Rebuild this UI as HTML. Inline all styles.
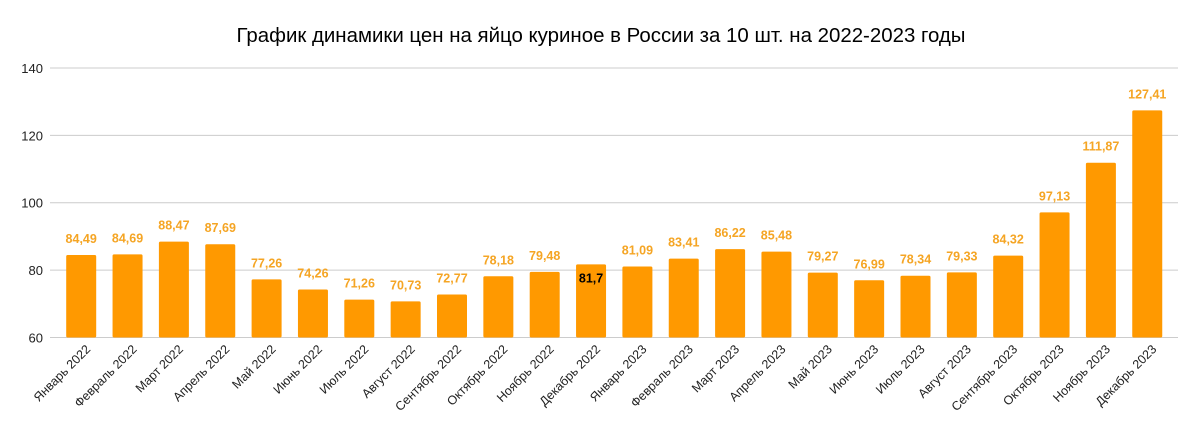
<!DOCTYPE html>
<html><head><meta charset="utf-8"><style>body{margin:0;background:#fff}svg{display:block}</style></head><body>
<svg width="1200" height="434" xmlns="http://www.w3.org/2000/svg" font-family="Liberation Sans, sans-serif">
<rect width="1200" height="434" fill="#fff"/>
<text x="601" y="42" font-size="20" text-anchor="middle" textLength="729" lengthAdjust="spacingAndGlyphs" fill="#000">График динамики цен на яйцо куриное в России за 10 шт. на 2022-2023 годы</text>
<g id="g"></g>
</svg>
<script>
const vals=[84.49,84.69,88.47,87.69,77.26,74.26,71.26,70.73,72.77,78.18,79.48,81.7,81.09,83.41,86.22,85.48,79.27,76.99,78.34,79.33,84.32,97.13,111.87,127.41];
const months=["Январь","Февраль","Март","Апрель","Май","Июнь","Июль","Август","Сентябрь","Октябрь","Ноябрь","Декабрь"];
const Y=v=>337.5-(v-60)*3.369;
let s="";
for(let t=60;t<=140;t+=20){const y=Y(t);s+=`<line x1="50" x2="1178" y1="${y}" y2="${y}" stroke="#ccc" stroke-width="1"/><text x="43" y="${y+5}" font-size="13" text-anchor="end" fill="#222">${t}</text>`;}
vals.forEach((v,i)=>{const cx=81.2+i*46.35,y=Y(v);
s+=`<rect x="${cx-15}" y="${y}" width="30" height="${337.5-y}" rx="1.5" fill="#ff9900"/>`;
const lbl=String(v).replace('.',',');
if(i==11)s+=`<text x="${cx}" y="${y+18}" font-size="12.5" font-weight="bold" text-anchor="middle" fill="#000">${lbl}</text>`;
else s+=`<text x="${cx}" y="${y-12}" font-size="12.5" font-weight="bold" text-anchor="middle" fill="#f5a524">${lbl}</text>`;
const name=months[i%12]+" "+(i<12?2022:2023);
s+=`<text transform="translate(${cx+10},${350}) rotate(-45)" font-size="12.5" text-anchor="end" fill="#222">${name}</text>`;
});
document.getElementById("g").innerHTML=s;
</script>
</body></html>
